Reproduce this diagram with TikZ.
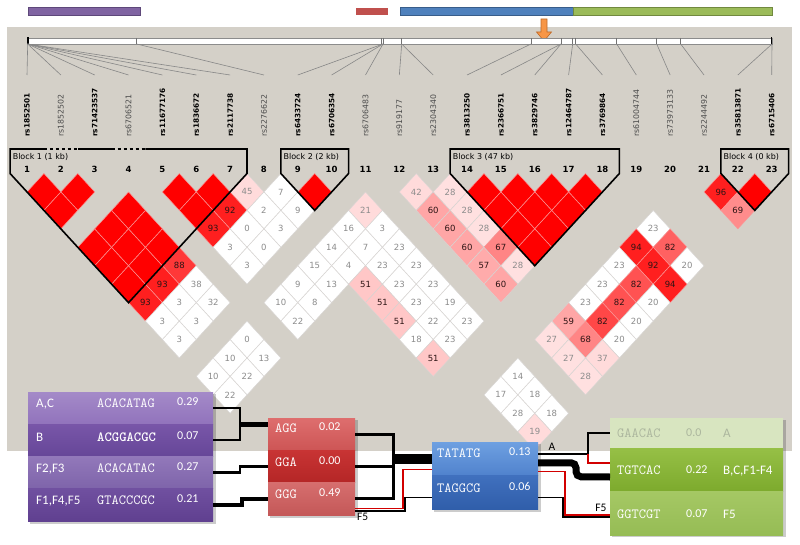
\documentclass[tikz,border=0pt]{standalone}
\usepackage{fontspec}
\setmainfont{DejaVu Sans}
\newfontfamily\boxfont{Carlito}
\usepackage{xcolor}
\usepackage{tikz}
\usetikzlibrary{arrows.meta, positioning, calc}

% --- colours ---
\definecolor{panelgrey}{RGB}{212,208,200}
\definecolor{snplinegrey}{RGB}{135,135,135}
\definecolor{barpurple}{RGB}{128,100,162}
\definecolor{barpurpleline}{RGB}{94,72,122}
\definecolor{barred}{RGB}{192,80,77}
\definecolor{barblue}{RGB}{79,129,189}
\definecolor{barblueline}{RGB}{56,93,138}
\definecolor{bargreen}{RGB}{155,187,89}
\definecolor{bargreenline}{RGB}{113,137,63}
\definecolor{arroworange}{RGB}{247,150,70}
\definecolor{arrowline}{RGB}{190,105,40}
\definecolor{ldred}{RGB}{255,0,0}
\definecolor{ldlinered}{RGB}{250,150,150}
\definecolor{ldlinegrey}{RGB}{215,212,210}
\definecolor{numdark}{RGB}{45,20,20}
\definecolor{numgrey}{RGB}{140,140,140}
\definecolor{pur1a}{RGB}{164,138,200}\definecolor{pur1b}{RGB}{145,115,188}
\definecolor{pur2a}{RGB}{120,86,168}\definecolor{pur2b}{RGB}{102,70,152}
\definecolor{pur3a}{RGB}{146,120,186}\definecolor{pur3b}{RGB}{126,100,170}
\definecolor{pur4a}{RGB}{112,80,160}\definecolor{pur4b}{RGB}{96,64,144}
\definecolor{red1a}{RGB}{222,110,110}\definecolor{red1b}{RGB}{205,85,85}
\definecolor{red2a}{RGB}{200,52,52}\definecolor{red2b}{RGB}{180,38,38}
\definecolor{red3a}{RGB}{214,110,110}\definecolor{red3b}{RGB}{196,88,88}
\definecolor{blu1a}{RGB}{110,160,225}\definecolor{blu1b}{RGB}{80,130,205}
\definecolor{blu2a}{RGB}{64,112,190}\definecolor{blu2b}{RGB}{48,94,170}
\definecolor{grn1}{RGB}{216,229,192}
\definecolor{grn2a}{RGB}{150,192,70}\definecolor{grn2b}{RGB}{125,170,45}
\definecolor{grn3a}{RGB}{165,200,100}\definecolor{grn3b}{RGB}{150,188,85}
\definecolor{grn1text}{RGB}{172,182,158}
\definecolor{pathred}{RGB}{210,0,0}

\begin{document}
\begin{tikzpicture}[
        x=1pt, y=-1pt,
        font=\fontsize{8}{9}\selectfont,
        >=Stealth,
        ldnum/.style={inner sep=0pt, font=\fontsize{8.5}{9}\selectfont},
        colnum/.style={inner sep=0pt, font=\fontsize{8.5}{9}\selectfont\bfseries},
        blocklabel/.style={inner sep=0pt, anchor=west, font=\fontsize{8}{9}\selectfont},
        blockline/.style={black, line width=1.6pt, line join=miter},
        snpname/.style={rotate=90, anchor=west, inner sep=0pt},
        snpline/.style={snplinegrey, line width=0.6pt},
        haprow/.style={inner sep=0pt, outer sep=0pt, anchor=north west},
        haplab/.style={inner sep=0pt, anchor=base west, text=white, font=\boxfont\fontsize{13}{14}\selectfont},
        hapseq/.style={inner sep=0pt, anchor=base west, text=white, font=\ttfamily\fontsize{14}{15}\selectfont},
        hapfrq/.style={inner sep=0pt, anchor=base west, text=white, font=\boxfont\fontsize{12}{13}\selectfont},
        pathlabel/.style={inner sep=0pt, font=\boxfont\fontsize{11.5}{12}\selectfont},
        boxshadow/.style={black, opacity=0.2},
    ]

    % --- INTERNAL FIGURE PARAMETERS ---
    \pgfmathsetmacro{\colzero}{27}
    \pgfmathsetmacro{\colstep}{33.85}
    \pgfmathsetmacro{\colhalf}{16.925}
    \pgfmathsetmacro{\rowzero}{173.5}
    \pgfmathsetmacro{\rowstep}{18.45}
    \pgfmathsetmacro{\blocktop}{149}

    \useasboundingbox (0,0) rectangle (800,545);

    % Gene bars and variant arrow
    \filldraw[fill=barpurple, draw=barpurpleline, line width=0.8pt] (28,7) rectangle (140,15);
    \fill[barred] (356,8) rectangle (388,15);
    \filldraw[fill=barblue, draw=barblueline, line width=0.8pt] (400,7) rectangle (573,15);
    \filldraw[fill=bargreen, draw=bargreenline, line width=0.8pt] (573,7) rectangle (772,15);

    % Background panel
    \fill[panelgrey] (7,27) rectangle (792,451);

    \filldraw[fill=arroworange, draw=arrowline, line width=0.6pt]
        (541,19) -- (547,19) -- (547,32) -- (551.5,32) -- (544,41) -- (536.5,32) -- (541,32) -- cycle;

    % Chromosome bar with marker ticks
    \filldraw[fill=white, draw=black!45, line width=0.6pt] (27.7,38) rectangle (772,44);
    \foreach \t in {136.7,381.7,383.3,401.7,531,561,572.7,575.7,616.7,656.7,680.7}{
        \draw[black!55, line width=0.6pt] (\t,38) -- (\t,44);
    }
    \draw[black, line width=1.6pt] (28,37.5) -- (28,44.5);
    \draw[black, line width=1.6pt] (771.5,37.5) -- (771.5,44.5);

    % Marker names, lines to the bar, and column numbers
    \foreach \n/\tk/\nm/\wt in {
        1/27.7/rs1852501/b, 2/27.7/rs1852502/n, 3/27.7/rs71423537/b, 4/27.7/rs6706521/n,
        5/27.7/rs11677176/b, 6/27.7/rs1836672/b, 7/27.7/rs2117738/b, 8/136.7/rs2276622/n,
        9/383/rs6433724/b, 10/383/rs6706354/b, 11/383/rs6706483/n, 12/401.7/rs919177/n,
        13/401.7/rs2304340/n, 14/531/rs3813250/b, 15/561/rs2366751/b, 16/561/rs3829746/b,
        17/572.7/rs12464787/b, 18/575.7/rs3769864/b, 19/616.7/rs61004744/n, 20/656.7/rs73973133/n,
        21/680.7/rs2244492/n, 22/772/rs35813871/b, 23/772/rs6715406/b}{
        \pgfmathsetmacro{\sx}{\colzero+\colstep*(\n-1)}
        \if b\wt
            \def\snpface{\fontsize{7.3}{8}\selectfont\bfseries}\def\snpcol{black}
        \else
            \def\snpface{\fontsize{7.8}{8}\selectfont}\def\snpcol{black!70}
        \fi
        \draw[snpline] (\tk,44) -- (\sx,75);
        \node[snpname, text=\snpcol] (snp\n) at (\sx,137) {\snpface\nm};
        \node[colnum] (num\n) at (\sx,169) {\n};
    }

    % LD cells with D' = 1
    \foreach \i/\j in {1/2,2/3,1/3,5/6,6/7,5/7,1/5,1/6,1/7,2/5,2/6,2/7,3/5,3/6,3/7,9/10,
        14/15,15/16,16/17,17/18,14/16,15/17,16/18,14/17,15/18,14/18,22/23}{
        \pgfmathsetmacro{\cx}{\colzero+\colstep*((\i+\j)/2-1)}
        \pgfmathsetmacro{\cy}{\rowzero+\rowstep*(\j-\i)}
        \filldraw[fill=ldred, draw=ldlinered, line width=0.5pt]
            ({\cx},{\cy-\rowstep}) -- ({\cx+\colhalf},{\cy}) -- ({\cx},{\cy+\rowstep}) -- ({\cx-\colhalf},{\cy}) -- cycle;
    }

    % LD cells with values (i/j/value/shade)
    \foreach \i/\j/\v/\p in {
        7/8/45/14, 6/8/92/88, 5/8/93/88, 8/9/7/0, 7/9/2/0, 6/9/0/0, 5/9/3/0,
        8/10/9/0, 7/10/3/0, 6/10/0/0, 5/10/3/0,
        3/8/88/78, 2/8/93/88, 1/8/93/88, 3/9/38/0, 2/9/3/0, 1/9/3/0, 3/10/32/0, 2/10/3/0, 1/10/3/0,
        10/12/21/14, 9/12/16/0, 8/12/14/0, 7/12/15/0, 6/12/9/0, 5/12/10/0,
        10/13/3/0, 9/13/7/0, 8/13/4/0, 7/13/13/0, 6/13/8/0, 5/13/22/0,
        10/14/23/0, 10/15/23/0, 10/16/23/0, 10/17/19/0, 10/18/23/0,
        9/14/23/0, 9/15/23/0, 9/16/23/0, 9/17/22/0, 9/18/23/0,
        8/14/51/22, 8/15/51/22, 8/16/51/22, 8/17/18/0, 8/18/51/22,
        3/12/0/0, 2/12/10/0, 3/13/13/0, 1/12/10/0, 2/13/22/0, 1/13/22/0,
        12/13/42/14, 13/14/28/12, 12/14/60/35, 13/15/28/12, 12/15/60/35, 13/16/28/12,
        12/16/60/35, 13/17/67/48, 12/17/57/33, 13/18/28/12, 12/18/60/35,
        18/21/23/0, 18/22/82/62, 18/23/20/0, 17/21/94/88, 17/22/92/88, 17/23/94/88,
        16/21/23/0, 16/22/82/68, 16/23/20/0, 15/21/23/0, 15/22/82/68, 15/23/20/0,
        14/21/23/0, 14/22/82/72, 14/23/20/0,
        13/21/59/35, 13/22/68/48, 13/23/37/14, 12/21/27/12, 12/22/27/12, 12/23/28/12,
        21/22/96/88, 21/23/69/45,
        10/21/14/0, 9/21/17/0, 10/22/18/0, 9/22/28/0, 10/23/18/0, 9/23/19/14}{
        \pgfmathsetmacro{\cx}{\colzero+\colstep*((\i+\j)/2-1)}
        \pgfmathsetmacro{\cy}{\rowzero+\rowstep*(\j-\i)}
        \ifnum\p>40 \def\ldedge{ldlinered}\else\def\ldedge{ldlinegrey}\fi
        \ifnum\p>21 \def\ldtext{numdark}\else\def\ldtext{numgrey}\fi
        \filldraw[fill=ldred!\p!white, draw=\ldedge, line width=0.5pt]
            ({\cx},{\cy-\rowstep}) -- ({\cx+\colhalf},{\cy}) -- ({\cx},{\cy+\rowstep}) -- ({\cx-\colhalf},{\cy}) -- cycle;
        \node[ldnum, text=\ldtext] (c\i-\j) at (\cx,\cy) {\v};
    }

    % Block outlines
    \pgfmathsetmacro{\bl}{\colzero-\colhalf}
    \pgfmathsetmacro{\br}{\colzero+6*\colstep+\colhalf}
    \pgfmathsetmacro{\bm}{(\bl+\br)/2}
    \pgfmathsetmacro{\bb}{\rowzero+7*\rowstep}
    \draw[blockline] ({\colzero+\colstep-\colhalf},\blocktop) -- (\bl,\blocktop) -- (\bl,\rowzero)
        -- (\bm,\bb) -- (\br,\rowzero) -- (\br,\blocktop) -- ({\colzero+3*\colstep+\colhalf},\blocktop);
    \draw[blockline] ({\colzero+\colstep+\colhalf},\blocktop) -- ({\colzero+3*\colstep-\colhalf},\blocktop);
    \draw[blockline, dash pattern=on 3.5pt off 2.5pt] ({\colzero+\colstep-\colhalf},\blocktop) -- ({\colzero+\colstep+\colhalf},\blocktop);
    \draw[blockline, dash pattern=on 3.5pt off 2.5pt] ({\colzero+3*\colstep-\colhalf},\blocktop) -- ({\colzero+3*\colstep+\colhalf},\blocktop);
    \node[blocklabel] (blk1) at ({\bl+2.5},157) {Block 1 (1 kb)};

    \foreach \a/\b/\bn/\kb in {9/10/2/2, 14/18/3/47, 22/23/4/0}{
        \pgfmathsetmacro{\bl}{\colzero+\colstep*(\a-1)-\colhalf}
        \pgfmathsetmacro{\br}{\colzero+\colstep*(\b-1)+\colhalf}
        \pgfmathsetmacro{\bm}{(\bl+\br)/2}
        \pgfmathsetmacro{\bb}{\rowzero+\rowstep*(\b-\a+1)}
        \draw[blockline] (\bl,\blocktop) -- (\br,\blocktop) -- (\br,\rowzero) -- (\bm,\bb) -- (\bl,\rowzero) -- cycle;
        \node[blocklabel] (blk\bn) at ({\bl+2.5},157) {Block \bn{} (\kb{} kb)};
    }

    % --- HAPLOTYPE BOXES ---
    % Block 1 haplotypes
    \fill[boxshadow] (30,394) rectangle (215.5,523.5);
    \node[haprow, minimum width=185pt, minimum height=32.25pt, top color=pur1a, bottom color=pur1b] (pA1) at (28,392) {};
    \node[haprow, minimum width=185pt, minimum height=32.25pt, top color=pur2a, bottom color=pur2b] (pA2) at (28,424.25) {};
    \node[haprow, minimum width=185pt, minimum height=32.25pt, top color=pur3a, bottom color=pur3b] (pA3) at (28,456.5) {};
    \node[haprow, minimum width=185pt, minimum height=32.25pt, top color=pur4a, bottom color=pur4b] (pA4) at (28,488.75) {};
    \node[haplab] (pA1l) at (36,407.5) {A,C};
    \node[hapseq] (pA1s) at (97,407.5) {ACACATAG};
    \node[hapfrq] (pA1f) at (177,405.5) {0.29};
    \node[haplab] (pA2l) at (36,441.5) {B};
    \node[hapseq] (pA2s) at (97,441.5) {\bfseries ACGGACGC};
    \node[hapfrq] (pA2f) at (177,439.5) {0.07};
    \node[haplab] (pA3l) at (36,472.5) {F2,F3};
    \node[hapseq] (pA3s) at (97,472.5) {ACACATAC};
    \node[hapfrq] (pA3f) at (177,470.5) {0.27};
    \node[haplab] (pA4l) at (36,504.5) {F1,F4,F5};
    \node[hapseq] (pA4s) at (97,504.5) {GTACCCGC};
    \node[hapfrq] (pA4f) at (177,502.5) {0.21};

    % Block 2 haplotypes
    \fill[boxshadow] (270,420) rectangle (357.5,517.5);
    \node[haprow, minimum width=87pt, minimum height=32.33pt, top color=red1a, bottom color=red1b] (rB1) at (268,418) {};
    \node[haprow, minimum width=87pt, minimum height=32.33pt, top color=red2a, bottom color=red2b] (rB2) at (268,450.33) {};
    \node[haprow, minimum width=87pt, minimum height=32.33pt, top color=red3a, bottom color=red3b] (rB3) at (268,482.67) {};
    \node[hapseq] (rB1s) at (275,432.5) {AGG};
    \node[hapfrq] (rB1f) at (319,430.5) {0.02};
    \node[hapseq] (rB2s) at (275,466.5) {GGA};
    \node[hapfrq] (rB2f) at (319,464.5) {0.00};
    \node[hapseq] (rB3s) at (275,498.5) {GGG};
    \node[hapfrq] (rB3f) at (319,496.5) {0.49};

    % Block 3 haplotypes
    \fill[boxshadow] (434,444) rectangle (540.5,511.5);
    \node[haprow, minimum width=106pt, minimum height=33.5pt, top color=blu1a, bottom color=blu1b] (bC1) at (432,442) {};
    \node[haprow, minimum width=106pt, minimum height=33.5pt, top color=blu2a, bottom color=blu2b] (bC2) at (432,475.5) {};
    \node[hapseq] (bC1s) at (437,457.5) {TATATG};
    \node[hapfrq] (bC1f) at (509,455.5) {0.13};
    \node[hapseq] (bC2s) at (437,492.5) {TAGGCG};
    \node[hapfrq] (bC2f) at (509,490.5) {0.06};

    % Block 4 haplotypes
    \fill[boxshadow] (612,420) rectangle (785.5,537);
    \node[haprow, minimum width=173pt, minimum height=30pt, fill=grn1] (gD1) at (610,418) {};
    \node[haprow, minimum width=173pt, minimum height=43pt, top color=grn2a, bottom color=grn2b] (gD2) at (610,448) {};
    \node[haprow, minimum width=173pt, minimum height=44pt, top color=grn3a, bottom color=grn3b] (gD3) at (610,491) {};
    \node[hapseq, text=grn1text] (gD1s) at (617,437.5) {GAACAC};
    \node[hapfrq, text=grn1text] (gD1f) at (686,436.5) {0.0};
    \node[haplab, text=grn1text] (gD1l) at (723,437.5) {A};
    \node[hapseq] (gD2s) at (617,474.5) {TGTCAC};
    \node[hapfrq] (gD2f) at (686,473.5) {0.22};
    \node[haplab] (gD2l) at (723,474.5) {B,C,F1-F4};
    \node[hapseq] (gD3s) at (617,518.5) {GGTCGT};
    \node[hapfrq] (gD3f) at (686,517.5) {0.07};
    \node[haplab] (gD3l) at (723,518.5) {F5};

    % --- CONNECTIONS ---
    % Block 1 -> Block 2
    \coordinate (pJ) at ($(pA1.east)+(27,0)$);
    \coordinate (pM) at ($(pJ)!0.5!(pJ |- pA2.east)$);
    \draw[line width=2.2pt] (pA1.east) -- (pJ) |- (pA2.east);
    \draw[line width=4.5pt] (pM) -- (pM -| rB1.west);
    \draw[line width=2.8pt] (pA3.east) -- ++(27,0) |- (rB2.west);
    \draw[line width=4.2pt] (pA4.east) -- ++(29,0) |- (rB3.west);

    % Block 2 -> Block 3
    \coordinate (rJ) at ($(rB1.east)+(38,0)$);
    \draw[line width=3pt] (rB1.east) -- (rJ) |- (rB3.east);
    \draw[line width=3pt] (rB2.east) -- (rB2.east -| rJ);
    \draw[line width=10pt] (rJ |- bC1.west) -- (bC1.west);
    \coordinate (rF) at ($(rB3.east)+(0,10)$);
    \draw[pathred, line width=1.3pt] (rF) -- ++(48,0) |- ($(bC1.west)+(0,11)$);
    \draw[black, line width=1.4pt] ($(rF)+(0,2)$) -- ++(50,0) |- ($(bC2.west)+(0,5)$);
    \node[pathlabel, anchor=north west] (f5a) at (357,513) {F5};

    % Block 3 -> Block 4
    \draw[black, line width=1.6pt] ($(bC1.east)+(0,-5)$) -- ++(50,0) |- (gD1.west);
    \draw[pathred, line width=1.2pt] ($(bC1.east)+(50,-5)$) |- ($(gD2.west)+(0,-6.5)$);
    \draw[black, line width=7pt, rounded corners=5pt] ($(bC1.east)+(0,4)$) -| ($(bC1.east)+(38,18)$) -- ($(gD2.west)+(0,7.5)$);
    \draw[pathred, line width=1.3pt] ($(bC1.east)+(0,13)$) -- ++(27,0) |- ($(gD3.west)+(0,2)$);
    \draw[black, line width=1.4pt] ($(bC2.east)+(0,5)$) -- ++(25,0) |- ($(gD3.west)+(0,4)$);
    \node[pathlabel, anchor=south] (lA) at (552,451) {A};
    \node[pathlabel, anchor=south] (f5b) at (601,512) {F5};

\end{tikzpicture}
\end{document}
